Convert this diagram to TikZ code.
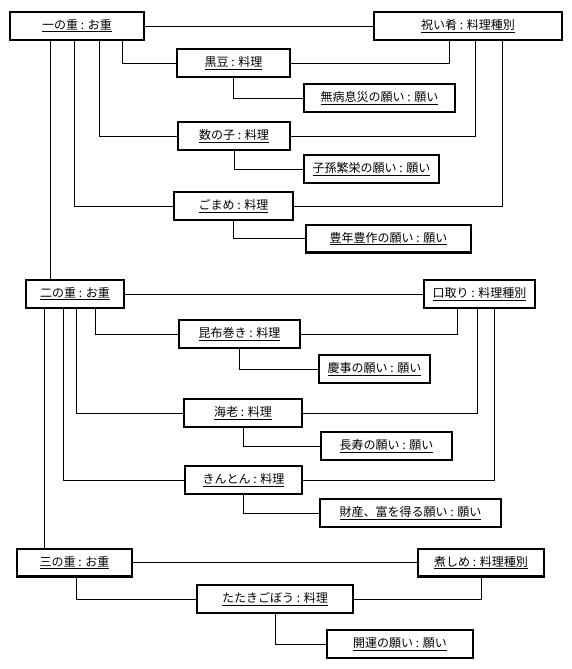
\documentclass[tikz,border=0pt]{standalone}
\usepackage{fontspec}
\setmainfont{Noto Sans CJK JP}
\tikzset{
	obj/.style={draw, line width=2.4pt, minimum height=27.6, inner sep=0pt, font=\fontsize{12}{14}\selectfont},
	link/.style={line width=0.9pt}
}
\begin{document}
\begin{tikzpicture}[x=1pt,y=-1pt]
	\useasboundingbox (0,0) rectangle (572,669);
	% 一の重
	\node[obj, minimum width=133.6] (ichi) at (77,26) {\underline{一の重 : お重}};
	\node[obj, minimum width=187.6] (iwai) at (468,26) {\underline{祝い肴 : 料理種別}};
	\node[obj, minimum width=112.6] (kuromame) at (233.5,63) {\underline{黒豆 : 料理}};
	\node[obj, minimum width=150.6] (mubyou) at (379.5,98) {\underline{無病息災の願い : 願い}};
	\node[obj, minimum width=111.6] (kazunoko) at (234,136) {\underline{数の子 : 料理}};
	\node[obj, minimum width=134.6] (shison) at (371.5,169) {\underline{子孫繁栄の願い : 願い}};
	\node[obj, minimum width=118.6] (gomame) at (233.5,206) {\underline{ごまめ : 料理}};
	\node[obj, minimum width=164.6] (hounen) at (388.5,238.5) {\underline{豊年豊作の願い : 願い}};
	\draw[link] (ichi) -- (iwai);
	\draw[link] ([xshift=45]ichi.south) |- (kuromame.west);
	\draw[link] ([xshift=22]ichi.south) |- (kazunoko.west);
	\draw[link] ([xshift=-3]ichi.south) |- (gomame.west);
	\draw[link] ([xshift=-19]iwai.south) |- (kuromame.east);
	\draw[link] ([xshift=7]iwai.south) |- (kazunoko.east);
	\draw[link] ([xshift=34]iwai.south) |- (gomame.east);
	\draw[link] (kuromame.south) |- (mubyou.west);
	\draw[link] (kazunoko.south) |- (shison.west);
	\draw[link] (gomame.south) |- (hounen.west);
	% 二の重
	\node[obj, minimum width=97.6] (ni) at (75,294) {\underline{二の重 : お重}};
	\node[obj, minimum width=110.6] (kuchi) at (479.5,294) {\underline{口取り : 料理種別}};
	\node[obj, minimum width=120.6] (konbu) at (239.5,334) {\underline{昆布巻き : 料理}};
	\node[obj, minimum width=110.6] (keiji) at (374.5,369) {\underline{慶事の願い : 願い}};
	\node[obj, minimum width=117.6] (ebi) at (243,413) {\underline{海老 : 料理}};
	\node[obj, minimum width=130.6] (choju) at (386.5,446) {\underline{長寿の願い : 願い}};
	\node[obj, minimum width=116.6] (kinton) at (243.5,480) {\underline{きんとん : 料理}};
	\node[obj, minimum width=180.6] (zaisan) at (410.5,513) {\underline{財産、富を得る願い : 願い}};
	\draw[link] ([xshift=-27]ichi.south) -- ([xshift=-25]ni.north);
	\draw[link] (ni) -- (kuchi);
	\draw[link] ([xshift=20]ni.south) |- (konbu.west);
	\draw[link] ([xshift=1]ni.south) |- (ebi.west);
	\draw[link] ([xshift=-12]ni.south) |- (kinton.west);
	\draw[link] ([xshift=-22.5]kuchi.south) |- (konbu.east);
	\draw[link] ([xshift=-2.5]kuchi.south) |- (ebi.east);
	\draw[link] ([xshift=14.5]kuchi.south) |- (kinton.east);
	\draw[link] (konbu.south) |- (keiji.west);
	\draw[link] (ebi.south) |- (choju.west);
	\draw[link] (kinton.south) |- (zaisan.west);
	% 三の重
	\node[obj, minimum width=114.6] (san) at (74.5,562.5) {\underline{三の重 : お重}};
	\node[obj, minimum width=125.6] (nishime) at (481,562.5) {\underline{煮しめ : 料理種別}};
	\node[obj, minimum width=155.6] (tataki) at (275,599) {\underline{たたきごぼう : 料理}};
	\node[obj, minimum width=145.6] (kaiun) at (400,644) {\underline{開運の願い : 願い}};
	\draw[link] ([xshift=-31]ni.south) -- ([xshift=-30.5]san.north);
	\draw[link] (san) -- (nishime);
	\draw[link] ([xshift=1.5]san.south) |- (tataki.west);
	\draw[link] (nishime.south) |- (tataki.east);
	\draw[link] (tataki.south) |- (kaiun.west);
\end{tikzpicture}
\end{document}
